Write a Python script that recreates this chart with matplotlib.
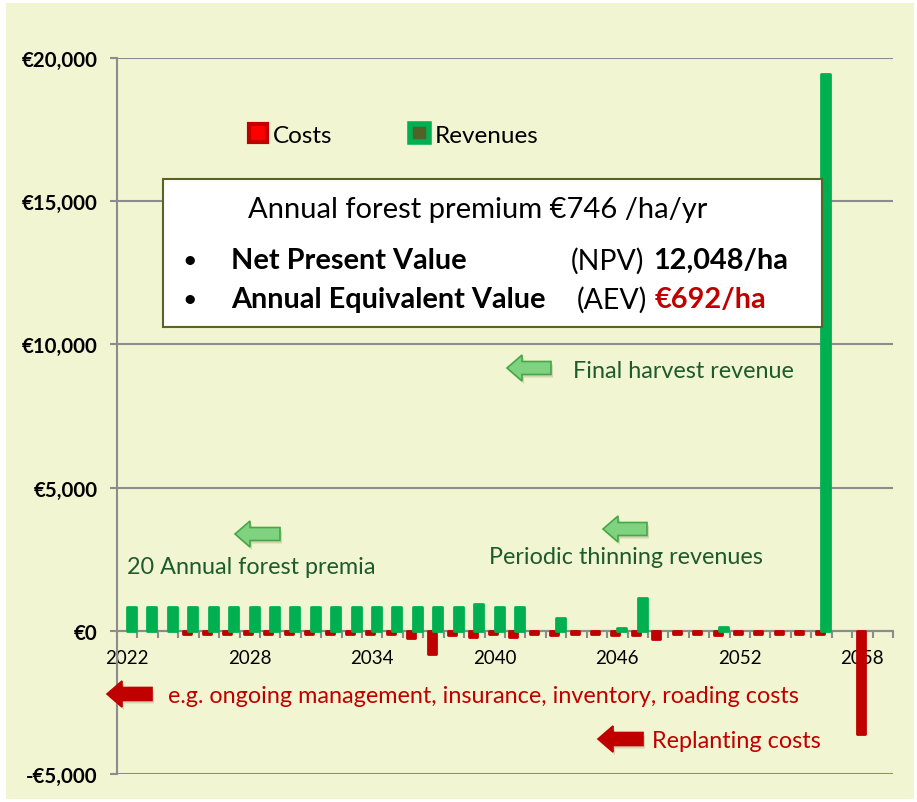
import numpy as np
import matplotlib.pyplot as plt
from matplotlib.patches import Patch, Polygon, Rectangle
from matplotlib.ticker import FuncFormatter

plt.rcParams['font.family'] = ['Lato', 'DejaVu Sans']

years = list(range(2022, 2060))
revenues = [830, 830, 830, 830, 830, 830, 830, 830, 830, 830,
            830, 830, 830, 830, 830, 830, 830, 950, 830, 830,
            0, 450, 0, 0, 100, 1150, 0, 0, 0, 130,
            0, 0, 0, 0, 19450, 0, 0, 0]
costs = [0, 0, 0, -100, -100, -100, -100, -100, -100, -100,
         -100, -100, -100, -100, -250, -800, -150, -200, -120, -200,
         -100, -150, -100, -100, -150, -150, -300, -100, -100, -150,
         -100, -100, -100, -100, -100, 0, -3600, 0]

W, H = 917, 803
bg = '#f2f5d2'
grey = '#8c8c8c'
red = '#c00000'
green = '#00b050'
dkgreen = '#1d5a2c'


def fx(x):
    return x / W


def fy(y):
    return 1 - y / H


def inch(x, y):
    return (x / 100, (H - y) / 100)


fig = plt.figure(figsize=(W / 100, H / 100), dpi=100, facecolor='white')
fig.patches.append(Rectangle(inch(6, 800), 908 / 100, 796 / 100, transform=fig.dpi_scale_trans,
                             facecolor=bg, edgecolor='none', zorder=-10))

ax = fig.add_axes([fx(117), fy(775), (893 - 117) / W, (775 - 59) / H])
ax.set_facecolor('none')

x = np.arange(len(years))
rev = np.array(revenues)
cst = np.array(costs)
mc = cst != 0
mr = rev != 0
ax.bar(x[mc] - 0.09, cst[mc], width=0.39, color=red, edgecolor=red, lw=2,
       joinstyle='round', zorder=3)
ax.bar(x[mr] + 0.21, rev[mr], width=0.44, color=green, edgecolor=green, lw=2,
       joinstyle='round', zorder=4)

ax.set_xlim(-0.5, len(years) - 0.5)
ax.set_ylim(-5000, 20000)

for s in ['top', 'right']:
    ax.spines[s].set_visible(False)
ax.spines['left'].set_color(grey)
ax.spines['left'].set_linewidth(1.5)
ax.spines['bottom'].set_color(grey)
ax.spines['bottom'].set_linewidth(1.5)
ax.spines['bottom'].set_position(('data', 0))

ax.set_xticks(x[::6])
ax.set_xticklabels([str(y) for y in years[::6]])
ax.set_xticks(np.arange(-0.5, len(years)), minor=True)
ax.tick_params(axis='x', which='major', length=0, pad=13, labelsize=13.5)
ax.tick_params(axis='x', which='minor', length=5, width=1.5, color=grey)

ax.set_yticks(range(-5000, 20001, 5000))
ax.yaxis.set_major_formatter(FuncFormatter(
    lambda v, p: ('-' if v < 0 else '') + f'€{abs(v):,.0f}'))
ax.tick_params(axis='y', length=5, width=1.5, color=grey, pad=9, labelsize=14.7)
for lab in ax.get_yticklabels():
    lab.set_fontweight('bold')
ax.grid(axis='y', color=grey, lw=1.5)
ax.set_axisbelow(True)

# legend
handles = [Patch(facecolor='#ff0000', edgecolor=red, lw=3, label='Costs'),
           Patch(facecolor='#4f6228', edgecolor=green, lw=4, label='Revenues')]
fig.legend(handles=handles, loc='center left', bbox_to_anchor=(fx(227), fy(136)),
           ncol=2, frameon=False, fontsize=17.5, handlelength=0.75, handleheight=0.75,
           handletextpad=0.25, columnspacing=3.2)

# summary box
box = Rectangle(inch(163, 328), (822 - 163) / 100, (328 - 180) / 100,
                transform=fig.dpi_scale_trans, facecolor='white',
                edgecolor='#5a6426', lw=1.5, zorder=5)
fig.patches.append(box)
fig.text(fx(248), fy(210), 'Annual forest premium €746 /ha/yr', fontsize=21,
         va='center', ha='left', zorder=6)
fig.text(fx(182), fy(261), '•', fontsize=18, va='center', zorder=6)
fig.text(fx(182), fy(300), '•', fontsize=18, va='center', zorder=6)
fig.text(fx(231), fy(261), 'Net Present Value', fontsize=20.8, fontweight='bold',
         va='center', zorder=6)
fig.text(fx(571), fy(261), '(NPV)', fontsize=20.5, va='center', zorder=6)
fig.text(fx(653), fy(261), '12,048/ha', fontsize=20.8, fontweight='bold',
         va='center', zorder=6)
fig.text(fx(231), fy(300), 'Annual Equivalent Value', fontsize=20.8, fontweight='bold',
         va='center', zorder=6)
fig.text(fx(577), fy(300), '(AEV)', fontsize=20.5, va='center', zorder=6)
fig.text(fx(655), fy(300), '€692/ha', fontsize=20.8, fontweight='bold', color=red,
         va='center', zorder=6)


def block_arrow(x0, x1, yc, face, edge):
    hl, hh, sh = 15, 13, 6.5
    pts = [(x0, yc), (x0 + hl, yc - hh), (x0 + hl, yc - sh), (x1, yc - sh),
           (x1, yc + sh), (x0 + hl, yc + sh), (x0 + hl, yc + hh)]
    shadow = Polygon([inch(px + 2, py + 3) for px, py in pts], closed=True,
                     transform=fig.dpi_scale_trans, facecolor='#9a9a80',
                     edgecolor='none', alpha=0.35, zorder=6)
    arr = Polygon([inch(px, py) for px, py in pts], closed=True,
                  transform=fig.dpi_scale_trans, facecolor=face,
                  edgecolor=edge, lw=1.2, zorder=7)
    fig.patches.append(shadow)
    fig.patches.append(arr)


block_arrow(507, 551, 369, '#7fd27f', '#45a845')
block_arrow(235, 280, 535, '#7fd27f', '#45a845')
block_arrow(603, 647, 530, '#7fd27f', '#45a845')
block_arrow(107, 152, 695, red, red)
block_arrow(598, 643, 740, red, red)

fs = 16.8
fig.text(fx(573), fy(372), 'Final harvest revenue', fontsize=fs, color=dkgreen, va='center')
fig.text(fx(127), fy(567), '20 Annual forest premia', fontsize=fs, color=dkgreen, va='center')
fig.text(fx(489), fy(558), 'Periodic thinning revenues', fontsize=fs, color=dkgreen, va='center')
fig.text(fx(168), fy(697), 'e.g. ongoing management, insurance, inventory, roading costs',
         fontsize=fs, color=red, va='center')
fig.text(fx(652), fy(742), 'Replanting costs', fontsize=fs, color=red, va='center')

fig.savefig('out.png', dpi=100, facecolor=fig.get_facecolor())
